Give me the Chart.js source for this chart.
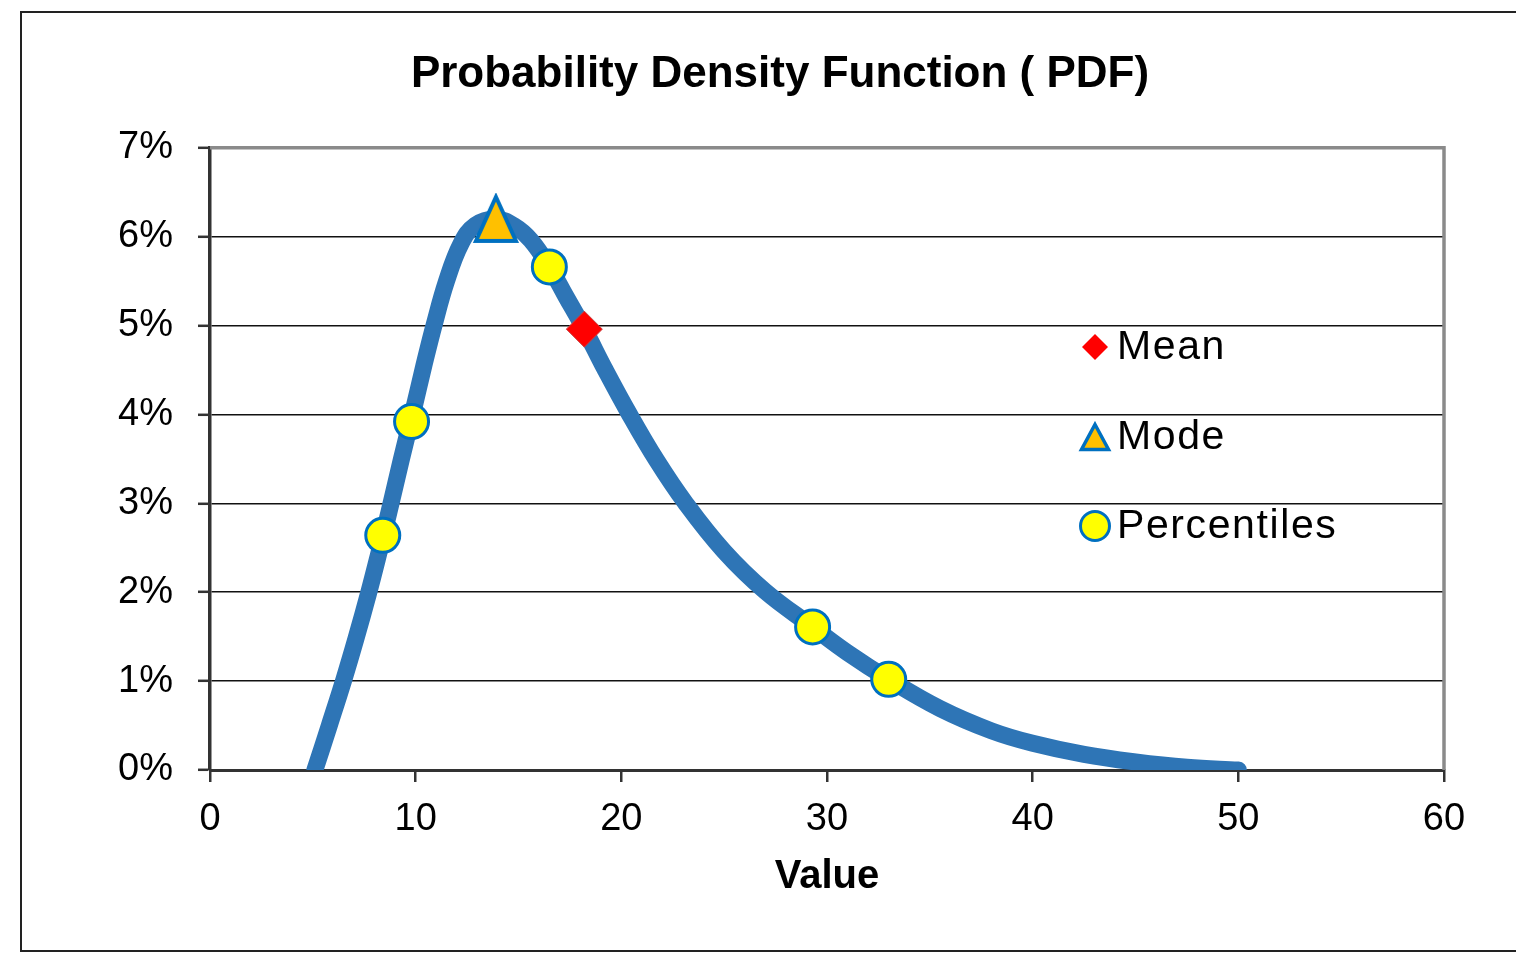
<!DOCTYPE html>
<html>
<head>
<meta charset="utf-8">
<title>Probability Density Function</title>
<script src="https://cdn.jsdelivr.net/npm/chart.js@4.4.1/dist/chart.umd.min.js"></script>
<style>
  body { margin: 0; background: #fff; overflow: hidden; }
  #wrap { position: relative; width: 1516px; height: 958px; }
  #frame { position: absolute; left: 20px; top: 11px; width: 1600px; height: 941px;
           box-sizing: border-box; border: 2px solid #222; }
  #pdf { position: absolute; left: 0; top: 0; }
</style>
</head>
<body>
<div id="wrap">
  <div id="frame"></div>
  <canvas id="pdf" width="1516" height="958"></canvas>
</div>
<script>
// curve (value, density in %)
const curveX = [5.1, 5.8, 6.5, 7.1, 7.7, 8.2, 8.7, 9.3, 9.9, 10.4, 10.9, 11.5, 12.2, 12.9, 13.9,
                14.8, 15.6, 16.5, 17.3, 18.2, 19.2, 20.4, 21.7, 23.1, 25.0, 27.0, 29.3, 31.0, 33.0,
                35.5, 38.0, 40.0, 42.5, 45.0, 47.5, 50.0];
const curveY = [0, 0.5, 1.01, 1.48, 1.98, 2.43, 2.9, 3.49, 4.06, 4.55, 5.01, 5.5, 5.92, 6.13, 6.2,
                6.12, 5.96, 5.66, 5.33, 4.96, 4.51, 4.0, 3.49, 3.01, 2.46, 2.01, 1.61, 1.32, 1.02,
                0.69, 0.44, 0.3, 0.175, 0.09, 0.03, 0];

const meanX = [18.2];
const meanY = [4.96];
const modeX = [13.9];
const modeY = [6.2];
const pctX = [8.4, 9.8, 16.5, 29.3, 33.0];
const pctY = [2.64, 3.92, 5.66, 1.61, 1.02];

const xTicks = [0, 10, 20, 30, 40, 50, 60];
const yTicks = [0, 1, 2, 3, 4, 5, 6, 7];
const legendLabels = ["Mean", "Mode", "Percentiles"];

const BLUE = "#2E75B6";
const EDGE = "#0070C0";

function toPoints(xs, ys) {
    return xs.map((x, i) => ({ x: x, y: ys[i] }));
}

// triangle marker as a small image so it can be a bit taller than wide
function triangleImage(w, h, lw) {
    const c = document.createElement("canvas");
    c.width = w;
    c.height = h;
    const g = c.getContext("2d");
    g.beginPath();
    g.moveTo(w / 2, lw);
    g.lineTo(w - lw, h - lw);
    g.lineTo(lw, h - lw);
    g.closePath();
    g.fillStyle = "#FFC000";
    g.fill();
    g.lineWidth = lw;
    g.lineJoin = "miter";
    g.strokeStyle = EDGE;
    g.stroke();
    return c;
}

const modeMarker = triangleImage(48, 52, 4);
const legendTriangle = triangleImage(34, 32, 3.5);

const frameLines = {
    id: "frameLines",
    beforeDatasetsDraw(chart) {
        const a = chart.chartArea;
        const ctx = chart.ctx;
        ctx.save();
        ctx.strokeStyle = "#8a8a8a";
        ctx.lineWidth = 3.5;
        ctx.beginPath();
        ctx.moveTo(a.left, a.top);
        ctx.lineTo(a.right, a.top);
        ctx.lineTo(a.right, a.bottom);
        ctx.stroke();
        ctx.restore();
    }
};

const sideLegend = {
    id: "sideLegend",
    afterDraw(chart) {
        const ctx = chart.ctx;
        const mx = 1095;
        const rows = [347, 437, 526];
        ctx.save();
        // mean diamond
        ctx.beginPath();
        ctx.moveTo(mx, rows[0] - 13);
        ctx.lineTo(mx + 13, rows[0]);
        ctx.lineTo(mx, rows[0] + 13);
        ctx.lineTo(mx - 13, rows[0]);
        ctx.closePath();
        ctx.fillStyle = "#FF0000";
        ctx.fill();
        // mode triangle
        ctx.drawImage(legendTriangle, mx - 17, rows[1] - 16);
        // percentile circle
        ctx.beginPath();
        ctx.arc(mx, rows[2], 14.5, 0, Math.PI * 2);
        ctx.fillStyle = "#FFFF00";
        ctx.fill();
        ctx.lineWidth = 3;
        ctx.strokeStyle = EDGE;
        ctx.stroke();

        ctx.fillStyle = "#000";
        ctx.font = '41px "Liberation Sans", Arial, sans-serif';
        ctx.letterSpacing = "1.6px";
        ctx.textBaseline = "middle";
        ctx.textAlign = "left";
        legendLabels.forEach((t, i) => ctx.fillText(t, 1117, rows[i] + 1));
        ctx.restore();
    }
};

const ctx = document.getElementById("pdf").getContext("2d");

new Chart(ctx, {
    type: "scatter",
    data: {
        datasets: [
            {
                label: "Mean",
                data: toPoints(meanX, meanY),
                pointStyle: "rectRot",
                pointRadius: 18,
                pointBackgroundColor: "#FF0000",
                pointBorderColor: "#C84040",
                pointBorderWidth: 1,
                order: 1
            },
            {
                label: "Mode",
                data: toPoints(modeX, modeY),
                pointStyle: modeMarker,
                order: 2
            },
            {
                label: "Percentiles",
                data: toPoints(pctX, pctY),
                pointStyle: "circle",
                pointRadius: 17,
                pointBackgroundColor: "#FFFF00",
                pointBorderColor: EDGE,
                pointBorderWidth: 3,
                order: 3
            },
            {
                label: "PDF",
                data: toPoints(curveX, curveY),
                showLine: true,
                pointRadius: 0,
                borderColor: BLUE,
                borderWidth: 17,
                borderCapStyle: "round",
                borderJoinStyle: "round",
                tension: 0.4,
                clip: 0,
                order: 4
            }
        ]
    },
    options: {
        responsive: false,
        animation: false,
        events: [],
        layout: { padding: { left: 116, right: 72, top: 0, bottom: 0 } },
        plugins: {
            legend: { display: false },
            tooltip: { enabled: false },
            title: {
                display: true,
                text: "Probability Density Function ( PDF)",
                color: "#000",
                font: { family: '"Liberation Sans", Arial, sans-serif', size: 44, weight: "bold" },
                padding: { top: 48, bottom: 47 }
            }
        },
        scales: {
            x: {
                type: "linear",
                min: 0,
                max: 60,
                afterBuildTicks: (scale) => { scale.ticks = xTicks.map(v => ({ value: v })); },
                afterFit: (scale) => { scale.height = 188; },
                grid: { drawOnChartArea: false, drawTicks: true, tickLength: 12, color: "#333", lineWidth: 2.5 },
                border: { display: true, color: "#333", width: 3 },
                ticks: {
                    color: "#000",
                    padding: 15,
                    maxRotation: 0,
                    font: { family: '"Liberation Sans", Arial, sans-serif', size: 38 }
                },
                title: {
                    display: true,
                    text: "Value",
                    color: "#000",
                    font: { family: '"Liberation Sans", Arial, sans-serif', size: 40, weight: "bold" },
                    padding: { top: 0, bottom: 57 }
                }
            },
            y: {
                min: 0,
                max: 7,
                afterBuildTicks: (scale) => { scale.ticks = yTicks.map(v => ({ value: v })); },
                afterFit: (scale) => { scale.width = 94; },
                grid: { color: "#111", lineWidth: 1.6, tickLength: 12, tickColor: "#333", tickWidth: 2.5 },
                border: { display: true, color: "#333", width: 3.5 },
                ticks: {
                    color: "#000",
                    padding: 25,
                    font: { family: '"Liberation Sans", Arial, sans-serif', size: 38 },
                    callback: (v) => v + "%"
                }
            }
        }
    },
    plugins: [frameLines, sideLegend]
});
</script>
</body>
</html>
